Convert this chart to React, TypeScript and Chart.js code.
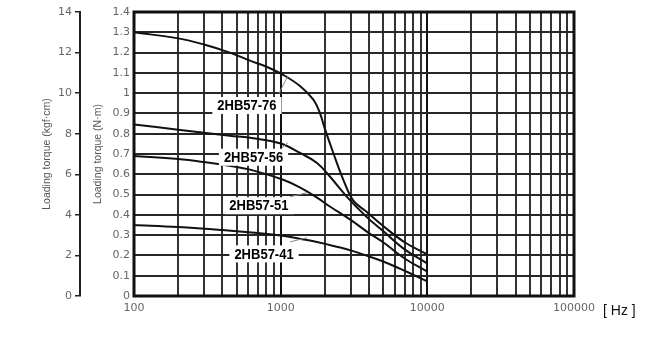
import React, { useEffect, useRef } from 'react';
import { Chart, registerables } from 'chart.js';

Chart.register(...registerables);

// ---- data ----
const seriesNames = ['2HB57-76', '2HB57-56', '2HB57-51', '2HB57-41'];

// [frequency Hz, torque N·m]
const curve76: [number, number][] = [
  [100, 1.3], [200, 1.27], [300, 1.24], [450, 1.2], [618, 1.16], [800, 1.13],
  [1040, 1.09], [1355, 1.035], [1670, 0.968], [1850, 0.903], [2000, 0.825],
  [2285, 0.705], [2675, 0.573], [3130, 0.47], [3850, 0.415], [5000, 0.345],
  [7000, 0.265], [10000, 0.205],
];
const curve56: [number, number][] = [
  [100, 0.845], [200, 0.82], [450, 0.79], [618, 0.78], [1000, 0.752], [1355, 0.705],
  [1770, 0.656], [2165, 0.589], [2820, 0.49], [3850, 0.39], [5000, 0.32],
  [7000, 0.23], [10000, 0.16],
];
const curve51: [number, number][] = [
  [100, 0.69], [200, 0.675], [300, 0.66], [480, 0.638], [618, 0.623], [1040, 0.573],
  [1350, 0.535], [1770, 0.485], [2165, 0.441], [3000, 0.375], [4000, 0.31],
  [5000, 0.265], [7000, 0.185], [10000, 0.12],
];
const curve41: [number, number][] = [
  [100, 0.35], [200, 0.34], [400, 0.325], [700, 0.31], [1000, 0.298], [1400, 0.28],
  [1800, 0.265], [2500, 0.24], [3000, 0.225], [4000, 0.195], [5000, 0.17],
  [6500, 0.135], [8000, 0.105], [10000, 0.072],
];
const curves = [curve76, curve56, curve51, curve41];

const decades = [100, 1000, 10000];
const xMax = 100000;
const xTickLabels = ['100', '1000', '10000', '100000'];
const nmTickLabels = ['0', '0.1', '0.2', '0.3', '0.4', '0.5', '0.6', '0.7', '0.8', '0.9', '1', '1.1', '1.2', '1.3', '1.4'];
const kgfTickLabels = ['0', '2', '4', '6', '8', '10', '12', '14'];

// label anchors (Hz, N·m) and leader lines
const labelAnchors: [number, number][] = [[589, 0.939], [653, 0.684], [711, 0.445], [770, 0.2075]];
const leaderLines: [number, number, number, number][] = [
  [974, 0.998, 1122, 1.087],
  [1021, 0.731, 1122, 0.756],
  [1158, 0.489, 1512, 0.509],
  [1158, 0.267, 1512, 0.287],
];

const tickFont = { family: 'DejaVu Sans', size: 11 };
const tickColor = '#666';
const titleFont = { family: 'Liberation Sans', size: 10.5 };

const annotatePlugin = {
  id: 'annotate',
  afterDatasetsDraw(chart: any) {
    const { ctx, scales } = chart;
    const xs = scales.x, ys = scales.y;
    ctx.save();
    ctx.strokeStyle = '#888';
    ctx.lineWidth = 1;
    leaderLines.forEach(([x1, y1, x2, y2]) => {
      ctx.beginPath();
      ctx.moveTo(xs.getPixelForValue(x1), ys.getPixelForValue(y1));
      ctx.lineTo(xs.getPixelForValue(x2), ys.getPixelForValue(y2));
      ctx.stroke();
    });
    ctx.font = 'bold 13px "Liberation Sans", Arial, sans-serif';
    ctx.textAlign = 'center';
    ctx.textBaseline = 'middle';
    seriesNames.forEach((name, i) => {
      const [hz, v] = labelAnchors[i];
      const cx = xs.getPixelForValue(hz);
      const cy = ys.getPixelForValue(v);
      const w = ctx.measureText(name).width;
      ctx.fillStyle = '#fff';
      ctx.fillRect(cx - w / 2 - 5, cy - 8.5, w + 10, 17);
      ctx.fillStyle = '#000';
      ctx.save();
      ctx.translate(cx, cy);
      ctx.scale(1, 1.15);
      ctx.fillText(name, 0, 0.5);
      ctx.restore();
    });
    ctx.restore();
  },
  afterDraw(chart: any) {
    const { ctx, chartArea } = chart;
    ctx.save();
    ctx.strokeStyle = '#111';
    ctx.lineWidth = 3;
    ctx.strokeRect(chartArea.left, chartArea.top, chartArea.right - chartArea.left, chartArea.bottom - chartArea.top);
    ctx.fillStyle = '#111';
    ctx.font = '14px "Liberation Sans", Arial, sans-serif';
    ctx.textAlign = 'left';
    ctx.textBaseline = 'middle';
    ctx.fillText('[ Hz ]', chartArea.right + 29, chartArea.bottom + 15);
    ctx.restore();
  },
};

export default function App() {
  const ref = useRef<HTMLCanvasElement>(null);
  useEffect(() => {
    if (!ref.current) return;
    const xTickValues: number[] = [];
    decades.forEach((d) => {
      for (let k = 1; k <= 9; k++) xTickValues.push(d * k);
    });
    xTickValues.push(xMax);
    const isDecade = (v: number) => xTickLabels.includes(String(v));

    const chart = new Chart(ref.current, {
      type: 'line',
      data: {
        datasets: curves.map((c, i) => ({
          label: seriesNames[i],
          data: c.map(([x, y]) => ({ x, y })),
          borderColor: '#111',
          borderWidth: 2,
          pointRadius: 0,
          fill: false,
          tension: 0.4,
          yAxisID: 'y',
        })),
      },
      options: {
        animation: false,
        responsive: false,
        maintainAspectRatio: false,
        devicePixelRatio: 1,
        layout: { padding: { left: 0, right: 76, top: 12, bottom: 6 } },
        plugins: { legend: { display: false }, tooltip: { enabled: false } },
        scales: {
          x: {
            type: 'logarithmic',
            min: 100,
            max: xMax,
            afterBuildTicks: (s: any) => {
              s.ticks = xTickValues.map((value) => ({ value }));
            },
            afterFit: (s: any) => { s.height = 40; },
            ticks: {
              autoSkip: false,
              maxRotation: 0,
              padding: 6,
              font: tickFont,
              color: tickColor,
              callback: (v: any) => (isDecade(Number(v)) ? String(v) : ''),
            },
            grid: {
              drawTicks: false,
              lineWidth: 2,
              color: (c: any) => (c.tick && isDecade(c.tick.value) ? '#111' : '#333'),
            },
            border: { display: false },
          },
          y: {
            type: 'linear',
            position: 'left',
            weight: 0,
            min: 0,
            max: 1.4,
            afterFit: (s: any) => { s.width = 54; },
            ticks: {
              stepSize: 0.1,
              padding: 4,
              font: tickFont,
              color: tickColor,
              callback: (v: any) => nmTickLabels[Math.round(Number(v) * 10)] ?? '',
            },
            grid: { drawTicks: false, lineWidth: 2, color: '#262626' },
            border: { display: false },
            title: {
              display: true,
              text: 'Loading torque (N·m)',
              font: titleFont,
              color: '#555',
              padding: { top: 12, bottom: 0 },
            },
          },
          y2: {
            type: 'linear',
            position: 'left',
            weight: 1,
            min: 0,
            max: 14,
            afterFit: (s: any) => { s.width = 80; },
            ticks: {
              stepSize: 2,
              padding: 3,
              font: tickFont,
              color: tickColor,
              callback: (v: any) => kgfTickLabels[Math.round(Number(v) / 2)] ?? '',
            },
            grid: { display: true, drawOnChartArea: false, drawTicks: true, tickLength: 5, color: '#222', lineWidth: 1.5 },
            border: { display: true, color: '#222', width: 2 },
            title: {
              display: true,
              text: 'Loading torque (kgf·cm)',
              font: titleFont,
              color: '#555',
              padding: { top: 41, bottom: 0 },
            },
          },
        },
      },
      plugins: [annotatePlugin],
    } as any);
    return () => chart.destroy();
  }, []);

  return (
    <div style={{ position: 'fixed', left: 0, top: 0, width: 650, height: 342, background: '#fff' }}>
      <canvas ref={ref} width={650} height={342} style={{ display: 'block', width: 650, height: 342 }} />
    </div>
  );
}
